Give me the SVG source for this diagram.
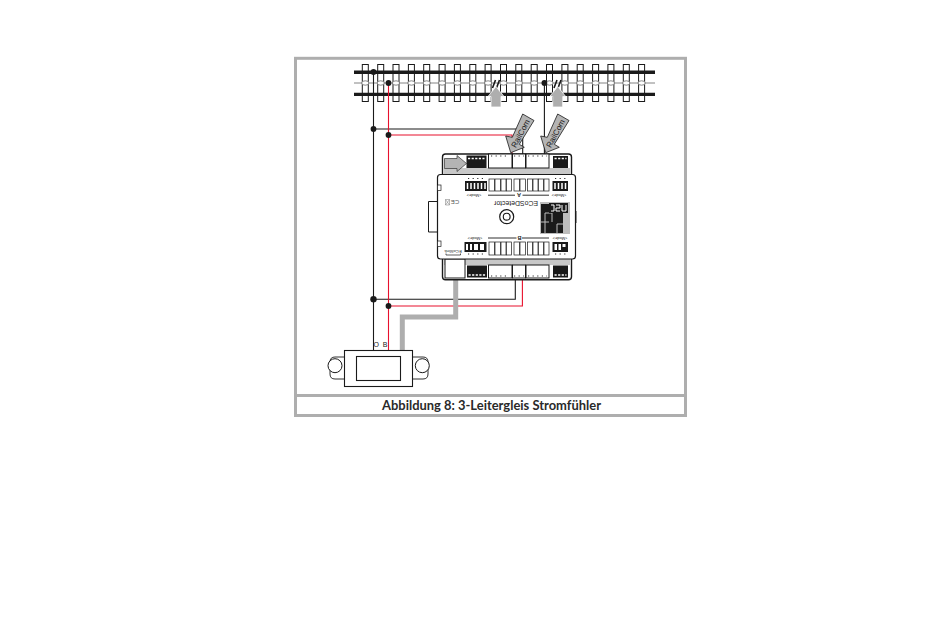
<svg xmlns="http://www.w3.org/2000/svg" width="950" height="620" viewBox="0 0 950 620">
<style>
.frame{fill:none;stroke:#aeaeae;stroke-width:3}
.sl{fill:#fff;stroke:#1a1a1a;stroke-width:1}
.tie{fill:#fff;stroke:#555;stroke-width:.7}
.rail{stroke:#1a1a1a;stroke-width:3.4}
.k{fill:none;stroke:#1a1a1a;stroke-width:1.1}
.r{fill:none;stroke:#e8112d;stroke-width:1.1}
.cable{fill:none;stroke:#aeaeae;stroke-width:5}
.dot{fill:#1a1a1a}
.arrow{fill:#b4b4b4;stroke:#1a1a1a;stroke-width:.8}
.up{fill:#aeaeae;stroke:#fff;stroke-width:.8}
.box{fill:#fff;stroke:#1a1a1a;stroke-width:1}
.blk{fill:#1a1a1a}
.t{font-family:"Liberation Sans",Arial,sans-serif;fill:#1a1a1a}
.tick{stroke:#1a1a1a;stroke-width:.9;stroke-dasharray:1.2 3.4;fill:none}
.seg{stroke:#fff;stroke-width:1.6;stroke-dasharray:2.2 1.4;fill:none}
</style>
<rect width="950" height="620" fill="#fff"/>
<g id="frame">
<rect class="frame" x="295.5" y="58.3" width="390" height="357.2"/>
<path class="frame" d="M295.5 395.4H685.5"/>
<text x="491.5" y="410" text-anchor="middle" font-family="Lato,sans-serif" font-weight="700" font-size="13" textLength="219" lengthAdjust="spacingAndGlyphs" fill="#2a2a2a">Abbildung 8: 3-Leitergleis Stromfühler</text>
</g>
<g id="track">
<g>
<rect class="sl" x="362.3" y="64.5" width="6" height="37"/><rect class="sl" x="377.7" y="64.5" width="6" height="37"/><rect class="sl" x="393" y="64.5" width="6" height="37"/><rect class="sl" x="408.4" y="64.5" width="6" height="37"/><rect class="sl" x="423.7" y="64.5" width="6" height="37"/><rect class="sl" x="439.1" y="64.5" width="6" height="37"/><rect class="sl" x="454.4" y="64.5" width="6" height="37"/><rect class="sl" x="469.8" y="64.5" width="6" height="37"/><rect class="sl" x="485.1" y="64.5" width="6" height="37"/><rect class="sl" x="500.5" y="64.5" width="6" height="37"/><rect class="sl" x="515.8" y="64.5" width="6" height="37"/><rect class="sl" x="531.2" y="64.5" width="6" height="37"/><rect class="sl" x="546.5" y="64.5" width="6" height="37"/><rect class="sl" x="561.9" y="64.5" width="6" height="37"/><rect class="sl" x="577.2" y="64.5" width="6" height="37"/><rect class="sl" x="592.6" y="64.5" width="6" height="37"/><rect class="sl" x="607.9" y="64.5" width="6" height="37"/><rect class="sl" x="623.3" y="64.5" width="6" height="37"/><rect class="sl" x="638.6" y="64.5" width="6" height="37"/>
</g>
<path d="M354 83H655" stroke="#666" stroke-width=".8"/>
<g>
<ellipse class="tie" cx="365.3" cy="83" rx="3.6" ry="2.2"/><ellipse class="tie" cx="380.7" cy="83" rx="3.6" ry="2.2"/><ellipse class="tie" cx="396" cy="83" rx="3.6" ry="2.2"/><ellipse class="tie" cx="411.4" cy="83" rx="3.6" ry="2.2"/><ellipse class="tie" cx="426.7" cy="83" rx="3.6" ry="2.2"/><ellipse class="tie" cx="442.1" cy="83" rx="3.6" ry="2.2"/><ellipse class="tie" cx="457.4" cy="83" rx="3.6" ry="2.2"/><ellipse class="tie" cx="472.8" cy="83" rx="3.6" ry="2.2"/><ellipse class="tie" cx="488.1" cy="83" rx="3.6" ry="2.2"/><ellipse class="tie" cx="503.5" cy="83" rx="3.6" ry="2.2"/><ellipse class="tie" cx="518.8" cy="83" rx="3.6" ry="2.2"/><ellipse class="tie" cx="534.2" cy="83" rx="3.6" ry="2.2"/><ellipse class="tie" cx="549.5" cy="83" rx="3.6" ry="2.2"/><ellipse class="tie" cx="564.9" cy="83" rx="3.6" ry="2.2"/><ellipse class="tie" cx="580.2" cy="83" rx="3.6" ry="2.2"/><ellipse class="tie" cx="595.6" cy="83" rx="3.6" ry="2.2"/><ellipse class="tie" cx="610.9" cy="83" rx="3.6" ry="2.2"/><ellipse class="tie" cx="626.3" cy="83" rx="3.6" ry="2.2"/><ellipse class="tie" cx="641.6" cy="83" rx="3.6" ry="2.2"/>
</g>
<path class="rail" d="M354 72.2H655M354 94.4H655"/>
<path d="M492.5 88L495.5 80M496.5 88L499.5 80M554 88L557 80M558 88L561 80" stroke="#1a1a1a" stroke-width="1.6" fill="none"/>
</g>
<g id="feedback-arrows">
<path class="up" d="M496 86.5L504 96.5H501V107H491V96.5H488Z"/>
<path class="up" d="M557.7 86.5L565.7 96.5H562.7V107H552.7V96.5H549.7Z"/>
</g>
<g id="connectors">
<path class="k" d="M373.5 72V350.5M373.5 129H522.7V155M373.5 299.2H515.3V278M544.4 83V155"/>
<path class="r" d="M388.5 83V350.5M388.5 135H512V155M388.5 306H522.4V278"/>
<path class="cable" d="M455.7 276V317H402.3V351"/>
<circle class="dot" cx="373.5" cy="72" r="2.9"/><circle class="dot" cx="388.5" cy="83" r="2.9"/><circle class="dot" cx="544.4" cy="83" r="2.9"/><circle class="dot" cx="373.5" cy="129" r="2.9"/><circle class="dot" cx="388.5" cy="135" r="2.9"/><circle class="dot" cx="373.5" cy="299.2" r="3.2"/><circle class="dot" cx="388.5" cy="306" r="2.9"/>
</g>
<g id="detector">
<path d="M437 201.5H428.5V232H437" fill="#fff" stroke="#1a1a1a" stroke-width="1"/>
<rect x="442.5" y="154" width="129" height="125.8" rx="3" fill="#fff" stroke="#1a1a1a" stroke-width="1.4"/>
<path d="M444 168H570V175H444ZM444 258H570V265H444Z" fill="#c8c8c8"/>
<path d="M444.5 158.5L457 158.5V155.5L466.5 163.5L457 171.5V168.5L444.5 168.5Z" fill="#b4b4b4" stroke="#333" stroke-width=".7"/>
<rect class="blk" x="466.5" y="155.5" width="20" height="12.5"/>
<path class="seg" d="M468 158.5h16.5"/>
<rect class="box" x="488.5" y="154" width="23.5" height="14"/><rect class="box" x="512.5" y="154" width="13" height="14"/><rect class="box" x="526" y="154" width="23" height="14"/>
<path class="tick" d="M491 156H509M514 156H524M528 156H547"/>
<rect class="blk" x="553" y="156" width="15" height="12"/>
<path class="seg" d="M554.5 158.5h12"/>
<rect x="445" y="259" width="20" height="19" fill="#fff" stroke="#1a1a1a"/>
<rect class="blk" x="467" y="265.5" width="20" height="12"/>
<path class="seg" d="M468.5 275h17"/>
<rect class="box" x="488.5" y="265" width="23.5" height="13"/><rect class="box" x="512.5" y="265" width="13" height="13"/><rect class="box" x="526" y="265" width="23" height="13"/>
<path class="tick" d="M491 276H509M514 276H524M528 276H547"/>
<rect class="blk" x="553" y="265.5" width="15" height="12"/>
<path class="seg" d="M554.5 275h12"/>
<rect x="572" y="211" width="5" height="12" fill="#9a9a9a"/>
<rect x="437.5" y="174.5" width="138" height="84.5" rx="3" fill="#fff" stroke="#1a1a1a" stroke-width="1.2"/>
<rect x="437.5" y="185" width="3.5" height="5.5" fill="#fff" stroke="#1a1a1a" stroke-width=".7"/>
<rect x="437.5" y="241" width="3.5" height="5.5" fill="#fff" stroke="#1a1a1a" stroke-width=".7"/>
<path class="tick" d="M468 178.5H484M555 178.5H567M468 254H484M555 254H567"/>
<rect class="blk" x="465" y="181" width="22" height="10"/>
<path d="M467.5 183v6M471 183v6M474.5 183v6M478 183v6M481.5 183v6M485 183v6" stroke="#fff" stroke-width="1.5"/>
<rect class="blk" x="552.5" y="181" width="15.5" height="10"/>
<path d="M555 183v6M558.5 183v6M562 183v6M565.5 183v6" stroke="#fff" stroke-width="1.5"/>
<g fill="#fff" stroke="#1a1a1a" stroke-width=".7">
<rect x="489" y="179" width="5.5" height="12"/><rect x="495" y="179" width="5.5" height="12"/><rect x="501" y="179" width="5" height="12"/><rect x="506.5" y="179" width="5" height="12"/>
<rect x="514" y="179" width="5.5" height="12"/><rect x="520" y="179" width="5.5" height="12"/>
<rect x="527.5" y="179" width="5" height="12"/><rect x="533" y="179" width="5" height="12"/><rect x="538.5" y="179" width="5" height="12"/><rect x="544" y="179" width="5" height="12"/>
<rect x="489" y="242" width="5.5" height="13"/><rect x="495" y="242" width="5.5" height="13"/><rect x="501" y="242" width="5" height="13"/><rect x="506.5" y="242" width="5" height="13"/>
<rect x="514" y="242" width="5.5" height="13"/><rect x="520" y="242" width="5.5" height="13"/>
<rect x="527.5" y="242" width="5" height="13"/><rect x="533" y="242" width="5" height="13"/><rect x="538.5" y="242" width="5" height="13"/><rect x="544" y="242" width="5" height="13"/>
</g>
<rect class="blk" x="464.5" y="242" width="22" height="10"/>
<path d="M466 244h2v6h-2zM470 244h2v6h-2zM474 244h4v6h-4zM480 244h4v6h-4z" fill="#fff"/>
<rect class="blk" x="552.5" y="242" width="15.5" height="10"/>
<path d="M554.5 244h2.5v6h-2.5zM558.5 244h2.5v6h-2.5zM562.5 244h3v3h-3z" fill="#fff"/>
<path d="M488 195.2H515M522.5 195.2H549M488 238H516.5M522 238H549" stroke="#1a1a1a" stroke-width=".9"/>
<path d="M446 253.5V255H460.5V253.5" fill="none" stroke="#1a1a1a" stroke-width=".7"/>
<text class="t" transform="rotate(180 519 195)" x="519" y="197" text-anchor="middle" font-size="5.5" font-weight="700">A</text>
<text class="t" transform="rotate(180 519.5 238)" x="519.5" y="240" text-anchor="middle" font-size="5.5" font-weight="700">B</text>
<text class="t" transform="rotate(180 474 195)" x="474" y="196.5" text-anchor="middle" font-size="4">&lt;Mode&gt;</text>
<text class="t" transform="rotate(180 559 195)" x="559" y="196.5" text-anchor="middle" font-size="4">&lt;Mode&gt;</text>
<text class="t" transform="rotate(180 475 238)" x="475" y="239.5" text-anchor="middle" font-size="4">&lt;Mode&gt;</text>
<text class="t" transform="rotate(180 560 238)" x="560" y="239.5" text-anchor="middle" font-size="4">&lt;Mode&gt;</text>
<text class="t" transform="rotate(180 453 251)" x="453" y="252.5" text-anchor="middle" font-size="4.2">ECoSlink</text>
<text class="t" transform="rotate(180 455 202)" x="455" y="204.2" text-anchor="middle" font-size="6" style="fill:#555">CE</text>
<path d="M445.5 199.5h4v5.5h-4zM445.5 199.5l4 5.5M449.5 199.5l-4 5.5" fill="none" stroke="#777" stroke-width=".5"/>
<text class="t" transform="rotate(180 516 204)" x="516" y="206.6" text-anchor="middle" font-size="7.4" textLength="44" lengthAdjust="spacingAndGlyphs">ECoSDetector</text>
<circle cx="506.7" cy="216.7" r="7" fill="#fff" stroke="#1a1a1a" stroke-width="1.2"/>
<circle cx="506.7" cy="216.7" r="3.4" fill="#fff" stroke="#1a1a1a" stroke-width="1.1"/>
<rect x="540" y="202" width="30" height="32" fill="#bdbdbd"/>
<rect class="blk" x="541" y="204" width="22" height="29"/>
<path d="M545 233V213H552M557 233V224H563M541 222H549M552 213V222" stroke="#bdbdbd" stroke-width="1" fill="none"/>
<rect x="549" y="203" width="19" height="10" fill="#1a1a1a"/>
<path d="M551 205h3v6h-3M556 205h4v3h-4v3h4M562 205v6h4v-6" fill="none" stroke="#fff" stroke-width="1"/>
</g>
<g id="railcom-arrows">
<path class="arrow" d="M522.7 114L534 120.5L519.3 144.3L524.3 147.3L510.7 152.7L505.7 136L512.3 137.3Z"/>
<text class="t" transform="rotate(-62 520.5 133.5)" x="520.5" y="136.3" text-anchor="middle" font-size="8">RailCom</text>
<path class="arrow" d="M557.7 114L569 120.5L554.3 144.3L559.3 147.3L545.7 152.7L540.7 136L547.3 137.3Z"/>
<text class="t" transform="rotate(-62 555.5 133.5)" x="555.5" y="136.3" text-anchor="middle" font-size="8">RailCom</text>
</g>
<g id="feeder">
<path d="M344.5 357H335Q330 357 330 362V374Q330 379 335 379H344.5M412 357H423Q428 357 428 362V374Q428 379 423 379H412" fill="#fff" stroke="#1a1a1a" stroke-width=".9"/>
<circle cx="335" cy="365.7" r="7" fill="#fff" stroke="#1a1a1a" stroke-width="1"/>
<circle cx="422.3" cy="365.7" r="7" fill="#fff" stroke="#1a1a1a" stroke-width="1"/>
<rect x="344.5" y="350.5" width="68" height="36" fill="#fff" stroke="#1a1a1a" stroke-width="1.1"/>
<rect x="356.5" y="356.5" width="44" height="24" fill="#fff" stroke="#1a1a1a" stroke-width="1.1"/>
<text class="t" x="376.3" y="347" text-anchor="middle" font-size="7">O</text>
<text class="t" x="385" y="347" text-anchor="middle" font-size="7">B</text>
</g>
</svg>
